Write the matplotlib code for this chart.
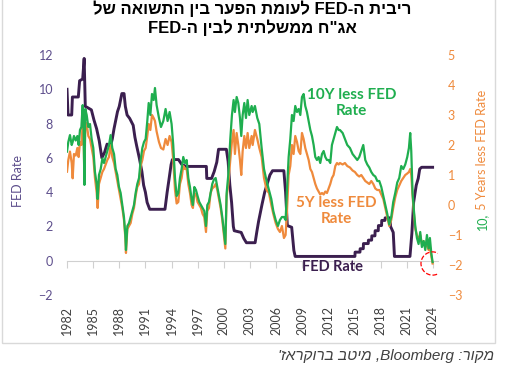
import re
import matplotlib
matplotlib.use('Agg')
import matplotlib.pyplot as plt
from matplotlib.patches import Rectangle

# values, x is the position on the chart's year axis
fed_years = [1982.00, 1982.12, 1982.54, 1982.62, 1983.30, 1983.45, 1983.80, 1983.97, 1984.10, 1984.30,
             1984.80, 1985.10, 1985.40, 1985.70, 1986.00, 1986.30, 1986.60, 1987.00, 1987.20, 1987.40,
             1987.80, 1988.00, 1988.30, 1988.55, 1988.70, 1988.90, 1989.20, 1989.60, 1989.80, 1990.00,
             1990.30, 1990.60, 1990.80, 1991.00, 1991.20, 1991.50, 1993.25, 1993.50, 1993.70, 1993.95,
             1994.10, 1994.80, 1995.20, 1995.70, 1998.00, 1998.05, 1998.60, 1998.90, 1999.20, 1999.40,
             2000.30, 2000.50, 2000.70, 2000.90, 2001.10, 2001.20, 2002.00, 2002.30, 2002.60, 2003.60,
             2003.80, 2004.00, 2004.20, 2004.40, 2004.70, 2005.00, 2005.30, 2005.60, 2006.90, 2007.10,
             2007.30, 2007.80, 2008.05, 2008.20, 2015.06, 2015.08, 2015.64, 2015.66, 2016.02, 2016.04,
             2016.59, 2016.61, 2016.98, 2017.00, 2017.36, 2017.38, 2017.74, 2017.76, 2018.12, 2018.14,
             2018.51, 2018.53, 2019.08, 2019.15, 2019.46, 2019.60, 2021.38, 2021.60, 2021.80, 2022.10,
             2022.33, 2022.50, 2022.72, 2023.98]
fed_rate = [10.0, 8.5, 8.5, 9.55, 9.55, 10.5, 10.6, 11.8, 9.0, 8.95,
            8.8, 8.2, 7.7, 7.0, 6.0, 6.3, 6.8, 6.7, 7.1, 7.7,
            8.7, 9.0, 9.75, 9.75, 9.0, 8.5, 8.3, 7.9, 7.2, 6.7,
            6.0, 5.2, 4.4, 4.0, 3.4, 3.0, 3.0, 4.0, 4.7, 5.6,
            5.9, 5.9, 5.6, 5.5, 5.5, 4.8, 4.8, 5.2, 5.75, 6.5,
            6.5, 5.8, 4.4, 3.4, 2.0, 1.75, 1.65, 1.3, 1.05, 1.05,
            1.7, 2.3, 2.8, 3.3, 4.0, 4.5, 5.0, 5.25, 5.25, 4.0,
            2.05, 1.95, 0.6, 0.25, 0.25, 0.5, 0.5, 0.7, 0.7, 1.0,
            1.0, 1.2, 1.2, 1.45, 1.45, 1.75, 1.75, 2.05, 2.05, 2.35,
            2.35, 2.5, 2.5, 2.0, 1.65, 0.25, 0.25, 1.6, 3.4, 4.4,
            4.8, 5.35, 5.45, 5.45]

spread_years = [1982.00, 1982.15, 1982.34, 1982.54, 1982.65, 1982.80, 1983.00, 1983.19, 1983.34, 1983.49,
                1983.65, 1983.80, 1983.91, 1984.00, 1984.10, 1984.26, 1984.45, 1984.64, 1984.83, 1985.02,
                1985.21, 1985.41, 1985.52, 1985.67, 1985.87, 1986.06, 1986.25, 1986.44, 1986.63, 1986.82,
                1987.01, 1987.20, 1987.40, 1987.59, 1987.78, 1987.97, 1988.16, 1988.35, 1988.54, 1988.70,
                1988.77, 1988.93, 1989.12, 1989.31, 1989.50, 1989.69, 1989.88, 1990.07, 1990.27, 1990.46,
                1990.65, 1990.84, 1991.03, 1991.22, 1991.38, 1991.57, 1991.76, 1991.95,
                1992.10, 1992.29, 1992.56, 1992.79, 1993.06, 1993.32, 1993.55, 1993.78, 1994.01, 1994.20,
                1994.40, 1994.59, 1994.78, 1994.97, 1995.16, 1995.35, 1995.54, 1995.74, 1995.93, 1996.12,
                1996.31, 1996.46, 1996.62, 1996.81, 1996.99, 1997.19, 1997.38, 1997.57, 1997.76, 1997.96,
                1998.11, 1998.30, 1998.49, 1998.68, 1998.87, 1999.07, 1999.26, 1999.45, 1999.64, 1999.83,
                2000.02, 2000.18, 2000.33, 2000.52, 2000.75, 2000.94, 2001.13, 2001.28, 2001.48, 2001.67,
                2001.86, 2002.01, 2002.17, 2002.36, 2002.55, 2002.74, 2002.93, 2003.20,
                2003.32, 2003.58, 2003.85, 2004.08, 2004.35, 2004.62, 2004.92, 2005.19, 2005.46, 2005.69,
                2005.96, 2006.22, 2006.45, 2006.68, 2006.91, 2007.10, 2007.26, 2007.45, 2007.64, 2007.83,
                2008.02, 2008.21, 2008.41, 2008.60, 2008.79, 2008.98, 2009.17, 2009.36, 2009.55, 2009.75,
                2009.94, 2010.13, 2010.32, 2010.51, 2010.70, 2010.89, 2011.08, 2011.28, 2011.47, 2011.66,
                2011.85, 2012.04, 2012.23, 2012.42, 2012.61, 2012.81, 2013.00, 2013.19,
                2013.34, 2013.65, 2013.91, 2014.18, 2014.49, 2014.79, 2015.06, 2015.33, 2015.56, 2015.79,
                2016.02, 2016.25, 2016.48, 2016.71, 2016.94, 2017.17, 2017.40, 2017.63, 2017.86, 2018.09,
                2018.32, 2018.55, 2018.78, 2019.00, 2019.23, 2019.46, 2019.69, 2019.92, 2020.15, 2020.38,
                2020.61, 2020.84, 2021.07, 2021.26, 2021.41, 2021.53, 2021.68, 2021.84, 2021.99, 2022.18,
                2022.37, 2022.56, 2022.75, 2022.95, 2023.14, 2023.33, 2023.52, 2023.67, 2023.83, 2023.98]
spread_10y = [1.78, 2.10, 2.33, 2.00, 2.10, 2.30, 2.15, 2.30, 2.00, 2.50,
              2.60, 3.33, 2.50, 0.67, 3.20, 3.00, 2.60, 2.70, 2.20, 1.90,
              1.10, 0.70, 0.20, 1.00, 1.20, 1.55, 1.40, 1.60, 1.80, 2.00,
              2.33, 1.90, 1.70, 1.20, 1.00, 0.60, 0.40, 0.00, -0.40, -1.00,
              -1.50, -0.70, -0.60, -0.40, -0.20, 0.00, 0.40, 0.70, 0.90, 1.50,
              1.90, 2.10, 2.20, 2.80, 3.40, 3.00, 3.70, 3.50,
              3.90, 3.33, 2.90, 2.60, 2.80, 3.20, 2.80, 3.10, 2.70, 2.00,
              0.90, 0.30, 0.40, 0.90, 1.20, 1.60, 1.40, 1.50, 0.90, 0.60,
              0.20, 0.00, 0.60, 0.50, 0.30, 0.10, 0.00, -0.10, -0.20, -0.70,
              0.00, 0.10, 0.40, 0.70, 0.85, 0.90, 0.60, 0.30, 0.00, -0.40,
              -0.90, -1.30, 0.40, 1.00, 2.20, 3.00, 3.50, 3.10, 3.60, 3.40,
              2.90, 2.30, 3.00, 3.40, 2.90, 3.50, 3.00, 3.30,
              3.10, 3.30, 2.90, 2.70, 1.90, 1.20, 0.80, 0.50, 0.20, -0.20,
              -0.50, -0.70, -0.50, -0.40, -0.40, -0.50, 0.50, 1.60, 2.20, 3.00,
              2.80, 3.30, 3.10, 3.20, 3.00, 3.60, 3.70, 3.30, 3.10, 2.80,
              2.50, 2.30, 2.00, 1.60, 1.50, 1.60, 1.40, 1.70, 1.80, 1.60,
              1.50, 1.50, 1.40, 2.00, 2.20, 2.40, 2.60, 2.50,
              2.50, 2.40, 2.20, 2.00, 1.90, 1.70, 1.60, 1.50, 1.60, 1.80,
              2.00, 1.50, 1.35, 1.25, 1.10, 1.00, 0.95, 0.80, 0.80, 0.60,
              0.30, 0.00, -0.30, -0.65, -0.40, 0.10, 0.40, 0.75, 0.90, 1.30,
              1.20, 1.35, 1.60, 1.90, 2.40, 1.80, 0.40, -0.20, -0.70, -1.10,
              -1.30, -0.90, -1.40, -1.20, -1.50, -1.00, -1.45, -1.10, -1.60, -1.90]
spread_5y = [1.11, 1.50, 1.78, 1.40, 0.89, 1.70, 1.65, 1.90, 1.60, 2.10,
             2.00, 2.70, 2.20, 0.75, 2.75, 2.70, 2.30, 2.20, 1.90, 1.60,
             0.90, 0.40, -0.10, 0.70, 0.90, 1.10, 1.20, 1.35, 1.50, 1.60,
             2.00, 1.60, 1.40, 1.10, 0.80, 0.50, 0.20, -0.10, -0.50, -1.10,
             -1.60, -0.80, -0.70, -0.60, -0.30, -0.10, 0.30, 0.60, 0.70, 1.30,
             1.50, 1.80, 1.90, 2.30, 2.70, 2.50, 3.00, 2.90,
             2.80, 2.45, 2.10, 1.90, 1.85, 2.20, 2.00, 2.30, 2.10, 1.50,
             0.50, 0.05, 0.10, 0.70, 0.90, 1.30, 1.20, 1.20, 0.70, 0.40,
             0.00, -0.10, 0.40, 0.35, 0.10, 0.00, -0.10, -0.30, -0.40, -0.90,
             -0.20, -0.10, 0.40, 0.55, 0.60, 0.70, 0.50, 0.20, -0.10, -0.50,
             -1.00, -1.45, 0.30, 0.70, 1.50, 2.10, 2.50, 1.70, 2.40, 2.00,
             1.50, 1.00, 1.80, 2.30, 1.90, 2.40, 1.90, 2.30,
             2.00, 2.50, 2.20, 1.90, 1.60, 0.90, 0.50, 0.40, 0.00, -0.30,
             -0.60, -0.80, -0.90, -0.70, -1.10, -1.00, -0.20, 1.00, 1.30, 2.00,
             1.70, 2.30, 2.10, 1.80, 1.70, 2.40, 2.20, 1.90, 1.70, 1.50,
             1.20, 1.10, 0.90, 0.70, 0.55, 0.45, 0.35, 0.40, 0.35, 0.45,
             0.40, 0.55, 0.70, 0.90, 1.00, 1.30, 1.40, 1.35,
             1.40, 1.35, 1.40, 1.30, 1.25, 1.15, 1.10, 1.00, 0.95, 1.00,
             0.90, 0.80, 0.75, 0.70, 0.80, 0.70, 0.55, 0.50, 0.50, 0.35,
             0.20, -0.10, -0.40, -0.70, -0.50, -0.10, 0.25, 0.50, 0.65, 0.80,
             0.90, 1.00, 1.05, 1.10, 1.20, 1.00, 0.30, -0.30, -0.80, -1.00,
             -1.15, -1.00, -1.30, -1.20, -1.40, -1.30, -1.50, -1.40, -1.70, -1.95]

tick_years = list(range(1982, 2025, 3))

purple = '#3b1f4f'
green = '#1fae4f'
orange = '#ef8a3c'


def visual(s):
    # no bidi in matplotlib: flip the hebrew by hand, keep latin words the right way round
    r = s[::-1]
    return re.sub(r"[A-Za-z0-9]+", lambda m: m.group(0)[::-1], r)


heb = ['Liberation Sans', 'DejaVu Sans']
plt.rcParams['font.family'] = ['Lato', 'DejaVu Sans']

fig = plt.figure(figsize=(5.05, 3.7), dpi=100)
ax = fig.add_axes([67/505, 75/370, 371/505, 240/370])
ax2 = ax.twinx()

ax.plot(fed_years, fed_rate, color=purple, lw=2.1, zorder=3)
ax2.plot(spread_years, spread_5y, color=orange, lw=1.6)
ax2.plot(spread_years, spread_10y, color=green, lw=1.6)
# red dashed ring round the last point
ax2.scatter([spread_years[-1]], [spread_5y[-1]], s=280, facecolors='none',
            edgecolors='red', linestyles='--', linewidths=0.9, zorder=5)

ax.set_xlim(1982, 2024.6)
ax.set_ylim(-2, 12)
ax2.set_ylim(-3, 5)

for a in (ax, ax2):
    for sp in a.spines.values():
        sp.set_visible(False)

ax.set_xticks(tick_years)
ax.set_xticklabels([str(y) for y in tick_years], rotation=90)
ax.tick_params(axis='x', length=0, pad=8, labelsize=9, labelcolor='#404040')
ax.set_yticks(range(-2, 13, 2))
ax.tick_params(axis='y', length=0, pad=10, labelsize=9, labelcolor='#5d4e8c')
ax2.set_yticks(range(-3, 6))
ax2.tick_params(axis='y', length=0, pad=7, labelsize=9, labelcolor=orange)

# category axis line sits at FED = 0
sec = ax.secondary_xaxis(2/14)
sec.set_xticks(tick_years)
sec.tick_params(length=5, color='#d0d0d0', labelbottom=False)
sec.spines['bottom'].set_color('#d0d0d0')

ax2.text(2014.7, 3.4, '10Y less FED\nRate', color=green, fontsize=11, fontweight='bold',
         ha='center', va='center', linespacing=1.25)
ax2.text(2012.9, -0.2, '5Y less FED\nRate', color=orange, fontsize=11, fontweight='bold',
         ha='center', va='center', linespacing=1.25)
ax.text(2012.5, -0.35, 'FED Rate', color=purple, fontsize=10.5, fontweight='bold',
        ha='center', va='center')

fig.text(18/505, 1-181/370, 'FED Rate', rotation=90, ha='center', va='center',
         color='#5d4e8c', fontsize=9)

# right axis title: "10," green, rest orange
t1 = fig.text(482/505, 1-230/370, '10,', rotation=90, ha='center', va='bottom',
              color=green, fontsize=9)
fig.canvas.draw()
bb = t1.get_window_extent(fig.canvas.get_renderer()).transformed(fig.transFigure.inverted())
fig.text(482/505, bb.y1, ' 5 Years less FED Rate', rotation=90, ha='center', va='bottom',
         color=orange, fontsize=9)

fig.text(252/505, 1-9/370, visual('ריבית ה-FED לעומת הפער בין התשואה של'),
         ha='center', va='center', fontsize=12, fontweight='bold', family=heb)
fig.text(252/505, 1-28/370, visual('אג"ח ממשלתית לבין ה-FED'),
         ha='center', va='center', fontsize=12, fontweight='bold', family=heb)

fig.text(494/505, 1-356/370, visual("מקור: Bloomberg, מיטב ברוקראז'"),
         ha='right', va='center', fontsize=11, style='italic', color='#404040', family=heb)

fig.add_artist(Rectangle((2/505, 27/370), 493/505, 1.0, transform=fig.transFigure,
                         fill=False, edgecolor='#d9d9d9', lw=1))

plt.savefig('out.png', dpi=100)
